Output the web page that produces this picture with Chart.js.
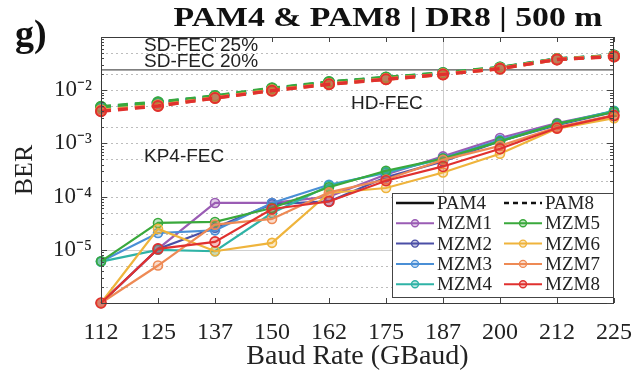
<!DOCTYPE html>
<html><head><meta charset="utf-8">
<script src="https://cdn.jsdelivr.net/npm/chart.js@4"></script>
<style>html,body{margin:0;padding:0;background:#fff}</style>
</head><body>
<canvas id="c" width="636" height="373" style="width:636px;height:373px;display:block"></canvas>
<script>
// ---------- data ----------
const baudRates = ['112','125','137','150','162','175','187','200','212','225'];
const mzmNames = ['MZM1','MZM2','MZM3','MZM4','MZM5','MZM6','MZM7','MZM8'];
const mzmColors = ['#9a5cb4','#4b4fa6','#4a8fd6','#2fb3a6','#3aa93c','#efb43c','#ee8a55','#e0312f'];

// PAM4 BER (solid)
const pam4_MZM1 = [1e-6, 1.04e-5, 7.6e-5, 7.6e-5, 1.0e-4, 2.6e-4, 5.7e-4, 1.26e-3, 2.4e-3, 4.0e-3];
const pam4_MZM2 = [1e-6, 1.04e-5, 2.6e-5, 7.2e-5, 8.1e-5, 2.3e-4, 4.6e-4, 1.1e-3, 2.2e-3, 3.9e-3];
const pam4_MZM3 = [6e-6, 2.07e-5, 2.32e-5, 7.6e-5, 1.67e-4, 2.8e-4, 5.3e-4, 1.15e-3, 2.3e-3, 4.0e-3];
const pam4_MZM4 = [6e-6, 1.0e-5, 9.4e-6, 4.9e-5, 1.6e-4, 2.9e-4, 5.1e-4, 1.1e-3, 2.3e-3, 4.1e-3];
const pam4_MZM5 = [6.08e-6, 3.2e-5, 3.34e-5, 6.1e-5, 1.5e-4, 3.06e-4, 5.2e-4, 1.09e-3, 2.33e-3, 3.9e-3];
const pam4_MZM6 = [1e-6, 2.47e-5, 9.4e-6, 1.35e-5, 1.17e-4, 1.45e-4, 2.84e-4, 6.38e-4, 1.9e-3, 2.98e-3];
const pam4_MZM7 = [1e-6, 5.06e-6, 2.97e-5, 3.8e-5, 1.2e-4, 2.1e-4, 4.9e-4, 9.0e-4, 2.0e-3, 3.4e-3];
const pam4_MZM8 = [1e-6, 1.04e-5, 1.41e-5, 5.85e-5, 8.1e-5, 1.99e-4, 3.69e-4, 7.93e-4, 1.94e-3, 3.33e-3];

// PAM8 BER (dashed)
const pam8_MZM1 = [4.6e-3, 5.7e-3, 7.5e-3, 1.05e-2, 1.38e-2, 1.70e-2, 2.07e-2, 2.62e-2, 3.84e-2, 4.45e-2];
const pam8_MZM2 = [4.5e-3, 5.6e-3, 7.4e-3, 1.04e-2, 1.36e-2, 1.68e-2, 2.05e-2, 2.60e-2, 3.82e-2, 4.40e-2];
const pam8_MZM3 = [4.7e-3, 5.8e-3, 7.6e-3, 1.06e-2, 1.40e-2, 1.71e-2, 2.08e-2, 2.64e-2, 3.85e-2, 4.46e-2];
const pam8_MZM4 = [4.8e-3, 5.85e-3, 7.7e-3, 1.07e-2, 1.41e-2, 1.72e-2, 2.09e-2, 2.66e-2, 3.86e-2, 4.48e-2];
const pam8_MZM5 = [4.9e-3, 5.95e-3, 7.8e-3, 1.09e-2, 1.43e-2, 1.74e-2, 2.11e-2, 2.68e-2, 3.87e-2, 4.50e-2];
const pam8_MZM6 = [4.2e-3, 5.2e-3, 7.2e-3, 1.0e-2, 1.31e-2, 1.62e-2, 2.00e-2, 2.56e-2, 3.80e-2, 4.35e-2];
const pam8_MZM7 = [4.1e-3, 5.1e-3, 7.15e-3, 9.9e-3, 1.30e-2, 1.61e-2, 1.99e-2, 2.55e-2, 3.79e-2, 4.32e-2];
const pam8_MZM8 = [4.0e-3, 5.05e-3, 7.1e-3, 9.8e-3, 1.29e-2, 1.60e-2, 1.98e-2, 2.54e-2, 3.78e-2, 4.30e-2];

// FEC thresholds
const sdFec20 = 2.4e-2;
const hdFec = 3.8e-3;
const kp4Fec = 2.2e-4;
const sdFec20Line = baudRates.map(() => sdFec20);

// y tick labels
const yTickValues = [1e-5, 1e-4, 1e-3, 1e-2];
const yTickLabels = ['10\u207B\u2075', '10\u207B\u2074', '10\u207B\u00B3', '10\u207B\u00B2'];

const pam4Series = [pam4_MZM1,pam4_MZM2,pam4_MZM3,pam4_MZM4,pam4_MZM5,pam4_MZM6,pam4_MZM7,pam4_MZM8];
const pam8Series = [pam8_MZM1,pam8_MZM2,pam8_MZM3,pam8_MZM4,pam8_MZM5,pam8_MZM6,pam8_MZM7,pam8_MZM8];

// ---------- build ----------
function alpha(hex, a) {
  const n = parseInt(hex.slice(1), 16);
  return `rgba(${(n>>16)&255},${(n>>8)&255},${n&255},${a})`;
}
const SERIF = '"Liberation Serif","Times New Roman",serif';
const SANS = '"Liberation Sans",Arial,sans-serif';

const datasets = [];
datasets.push({
  label: 'SD-FEC 20%', data: sdFec20Line, borderColor: '#555', borderWidth: 1.2,
  pointRadius: 0, order: 100, clip: false
});
pam8Series.forEach((d, k) => {
  datasets.push({
    label: 'PAM8 ' + mzmNames[k], data: d, borderColor: mzmColors[k],
    backgroundColor: alpha(mzmColors[k], 0.35), borderWidth: 3.4, borderDash: [10, 7],
    pointRadius: 5, pointBorderWidth: 2, pointBackgroundColor: alpha(mzmColors[k], 0.3),
    pointBorderColor: mzmColors[k], order: 40 - k, clip: false, tension: 0
  });
});
pam4Series.forEach((d, k) => {
  datasets.push({
    label: 'PAM4 ' + mzmNames[k], data: d, borderColor: mzmColors[k],
    backgroundColor: alpha(mzmColors[k], 0.35), borderWidth: 2.2,
    pointRadius: k === 7 ? 5 : 4.5, pointBorderWidth: 1.6, pointBackgroundColor: alpha(mzmColors[k], 0.3),
    pointBorderColor: mzmColors[k], order: 20 - k, clip: false, tension: 0
  });
});

const decorPlugin = {
  id: 'decor',
  beforeDatasetsDraw(chart) {
    const {ctx, chartArea: a, scales: {x, y}} = chart;
    ctx.save();
    ctx.lineWidth = 1;
    // dotted grid at 1, 2, 5 per decade
    ctx.strokeStyle = '#bdbdbd';
    ctx.setLineDash([2, 3]);
    for (let e = -6; e <= -2; e++) {
      [1, 2, 5].forEach(m => {
        const v = m * Math.pow(10, e);
        if (v <= 1e-6 * 1.0001 || Math.abs(v - 1e-5) < 1e-9) return;
        const py = Math.round(y.getPixelForValue(v)) + 0.5;
        ctx.beginPath(); ctx.moveTo(a.left, py); ctx.lineTo(a.right, py); ctx.stroke();
      });
    }
    ctx.setLineDash([]);
    ctx.strokeStyle = '#cfcfcf';
    // solid light lines at 187 GBaud and 1e-5
    const xp = Math.round(x.getPixelForValue(6)) + 0.5;
    ctx.beginPath(); ctx.moveTo(xp, a.top); ctx.lineTo(xp, a.bottom); ctx.stroke();
    const yp = Math.round(y.getPixelForValue(1e-5)) + 0.5;
    ctx.beginPath(); ctx.moveTo(a.left, yp); ctx.lineTo(a.right, yp); ctx.stroke();
    ctx.restore();
  },
  afterDatasetsDraw(chart) {
    const {ctx, chartArea: a, scales: {x, y}} = chart;
    ctx.save();
    // frame
    ctx.strokeStyle = '#3a3a3a';
    ctx.lineWidth = 1;
    ctx.setLineDash([]);
    ctx.strokeRect(Math.round(a.left) + 0.5, Math.round(a.top) + 0.5, Math.round(a.right - a.left) - 1, Math.round(a.bottom - a.top));
    // inward ticks on x
    ctx.strokeStyle = '#444';
    for (let i = 0; i < baudRates.length; i++) {
      const px = Math.round(x.getPixelForValue(i)) + 0.5;
      ctx.beginPath();
      ctx.moveTo(px, a.bottom); ctx.lineTo(px, a.bottom - 5);
      ctx.moveTo(px, a.top); ctx.lineTo(px, a.top + 5);
      ctx.stroke();
    }
    // inward ticks on y (log minor)
    for (let e = -6; e <= -2; e++) {
      for (let m = 1; m <= 9; m++) {
        const v = m * Math.pow(10, e);
        if (v > 0.1) continue;
        const py = Math.round(y.getPixelForValue(v)) + 0.5;
        const len = m === 1 ? 6 : 3;
        ctx.beginPath();
        ctx.moveTo(a.left, py); ctx.lineTo(a.left + len, py);
        ctx.moveTo(a.right - 1, py); ctx.lineTo(a.right - 1 - len, py);
        ctx.stroke();
      }
    }
    // FEC text
    ctx.fillStyle = '#222';
    ctx.font = '19px ' + SANS;
    ctx.textAlign = 'left';
    ctx.textBaseline = 'alphabetic';
    const tx = a.left + 43;
    const y20 = y.getPixelForValue(sdFec20);
    ctx.fillText('SD-FEC 20%', tx, y20 - 3);
    ctx.fillText('SD-FEC 25%', tx, y20 - 19);
    ctx.fillText('HD-FEC', x.getPixelForValue(4) + 22, y.getPixelForValue(hdFec) - 4);
    ctx.fillText('KP4-FEC', tx, y.getPixelForValue(kp4Fec) - 16);

    // legend
    const lx = a.right - 222, ly = a.bottom - 110, lw = 221, lh = 104;
    ctx.fillStyle = '#fff';
    ctx.fillRect(lx, ly, lw, lh);
    ctx.strokeStyle = '#444';
    ctx.lineWidth = 1;
    ctx.strokeRect(Math.round(lx) + 0.5, Math.round(ly) + 0.5, lw, lh);
    const rowH = 20.3;
    const cols = [lx + 4, lx + 112];
    const items = [
      {t: 'PAM4', c: '#111', dash: []}, {t: 'PAM8', c: '#111', dash: [5, 4]},
      {t: mzmNames[0], c: mzmColors[0], m: 1}, {t: mzmNames[4], c: mzmColors[4], m: 1},
      {t: mzmNames[1], c: mzmColors[1], m: 1}, {t: mzmNames[5], c: mzmColors[5], m: 1},
      {t: mzmNames[2], c: mzmColors[2], m: 1}, {t: mzmNames[6], c: mzmColors[6], m: 1},
      {t: mzmNames[3], c: mzmColors[3], m: 1}, {t: mzmNames[7], c: mzmColors[7], m: 1}
    ];
    ctx.font = '19px ' + SERIF;
    ctx.textBaseline = 'middle';
    items.forEach((it, i) => {
      const cx = cols[i % 2], cy = ly + 10 + Math.floor(i / 2) * rowH;
      ctx.strokeStyle = it.c;
      ctx.lineWidth = it.m ? 2 : 2.6;
      ctx.setLineDash(it.dash || []);
      ctx.beginPath(); ctx.moveTo(cx, cy); ctx.lineTo(cx + 38, cy); ctx.stroke();
      ctx.setLineDash([]);
      if (it.m) {
        ctx.beginPath(); ctx.arc(cx + 19, cy, 3.5, 0, Math.PI * 2);
        ctx.fillStyle = alpha(it.c, 0.3); ctx.fill();
        ctx.lineWidth = 1.4; ctx.stroke();
      }
      ctx.fillStyle = '#222';
      ctx.fillText(it.t, cx + 41, cy + 1);
    });
    ctx.restore();
  },
  afterDraw(chart) {
    const {ctx, chartArea: a} = chart;
    ctx.save();
    ctx.fillStyle = '#111';
    ctx.textBaseline = 'alphabetic';
    ctx.textAlign = 'center';
    ctx.font = 'bold 27px ' + SERIF;
    ctx.translate(388, 26);
    ctx.scale(1.25, 1);
    ctx.fillText('PAM4 & PAM8 | DR8 | 500 m', 0, 0);
    ctx.restore();
    ctx.save();
    ctx.fillStyle = '#111';
    ctx.textAlign = 'left';
    ctx.font = 'bold 38px ' + SERIF;
    ctx.fillText('g)', 15, 46);
    ctx.restore();
  }
};

new Chart(document.getElementById('c'), {
  type: 'line',
  data: { labels: baudRates, datasets },
  options: {
    responsive: false,
    animation: false,
    devicePixelRatio: 1,
    layout: { padding: { top: 37, right: 22, left: 0, bottom: 0 } },
    plugins: { legend: { display: false }, tooltip: { enabled: false }, title: { display: false } },
    scales: {
      x: {
        type: 'category', offset: false,
        afterFit: s => { s.height = 70; s.paddingLeft = 0; s.paddingRight = 0; },
        ticks: { font: { family: SERIF, size: 24 }, color: '#222', padding: 15, maxRotation: 0, autoSkip: false },
        grid: { display: false, drawTicks: false },
        border: { display: false },
        title: { display: true, text: 'Baud Rate (GBaud)', font: { family: SERIF, size: 28 }, color: '#222', padding: { top: 0, bottom: 0 } }
      },
      y: {
        type: 'logarithmic', min: 1e-6, max: 1e-1,
        afterFit: s => { s.width = 101; s.paddingTop = 0; s.paddingBottom = 0; },
        ticks: {
          font: { family: SERIF, size: 23 }, color: '#222', padding: 9, autoSkip: false,
          callback: (v) => {
            const i = yTickValues.findIndex(t => Math.abs(t - v) / t < 1e-6);
            return i >= 0 ? yTickLabels[i] : '';
          }
        },
        grid: { display: false, drawTicks: false },
        border: { display: false },
        title: { display: true, text: 'BER', font: { family: SERIF, size: 26 }, color: '#222', padding: { top: 10, bottom: 0 } }
      }
    }
  },
  plugins: [decorPlugin]
});
</script>
</body></html>
